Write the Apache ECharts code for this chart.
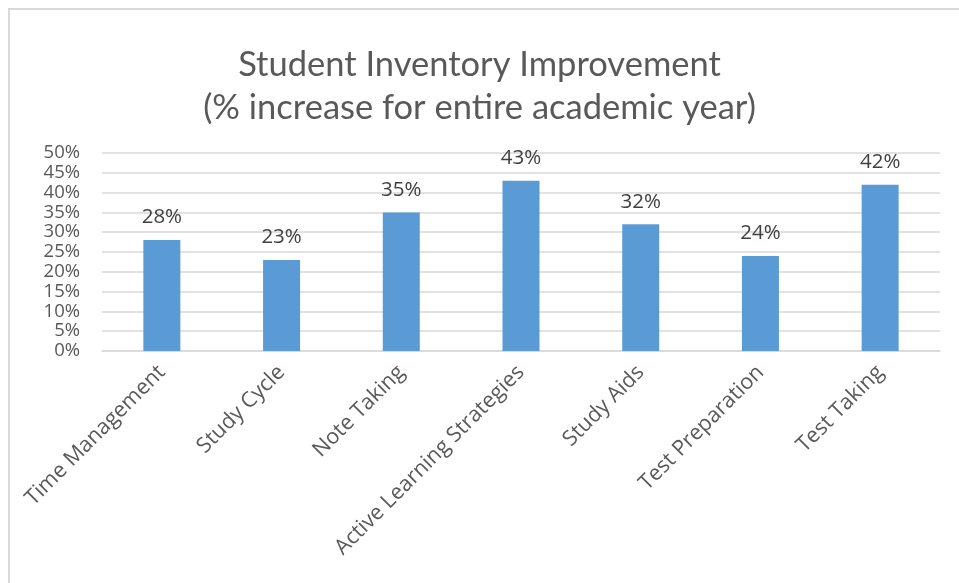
<!DOCTYPE html>
<html>
<head>
<meta charset="utf-8">
<script src="https://cdn.jsdelivr.net/npm/echarts@6/dist/echarts.min.js"></script>
<style>
html, body { margin: 0; padding: 0; background: #fff; }
#frame {
    position: absolute;
    left: 8px; top: 8px;
    width: 951px; height: 575px;
    border-left: 2px solid #d9d9d9;
    border-top: 2px solid #d9d9d9;
}
#chart { position: absolute; left: 0; top: 0; width: 959px; height: 583px; }
</style>
</head>
<body>
<div id="frame"></div>
<div id="chart"></div>
<script>
var categories = ['Time Management', 'Study Cycle', 'Note Taking', 'Active Learning Strategies', 'Study Aids', 'Test Preparation', 'Test Taking'];
var values = [28, 23, 35, 43, 32, 24, 42];
var titleLines = ['Student Inventory Improvement', '(% increase for entire academic year)'];

var option = {
    animation: false,
    title: {
        text: titleLines.join('\n'),
        left: 'center',
        top: 38,
        textStyle: {
            color: '#595959',
            fontFamily: 'Lato',
            fontWeight: 'normal',
            fontSize: 34.5,
            lineHeight: 43
        }
    },
    grid: {
        left: 102,
        right: 19,
        top: 153,
        bottom: 232
    },
    xAxis: {
        type: 'category',
        data: categories,
        axisTick: { show: false },
        splitLine: { show: false },
        axisLine: { lineStyle: { color: '#d9d9d9', width: 1.5 } },
        axisLabel: {
            rotate: 45,
            margin: 18,
            color: '#595959',
            fontFamily: 'Open Sans',
            fontSize: 21.5,
            interval: 0
        }
    },
    yAxis: {
        type: 'value',
        min: 0,
        max: 50,
        interval: 5,
        axisLine: { show: false },
        axisTick: { show: false },
        splitLine: { lineStyle: { color: '#d9d9d9', width: 1.5 } },
        axisLabel: {
            margin: 22,
            color: '#595959',
            fontFamily: 'Open Sans',
            fontSize: 18.5,
            formatter: '{value}%'
        }
    },
    series: [{
        type: 'bar',
        data: values,
        barWidth: 37,
        itemStyle: { color: '#5b9bd5' },
        label: {
            show: true,
            position: 'top',
            distance: 12,
            color: '#404040',
            fontFamily: 'Open Sans',
            fontSize: 20.5,
            formatter: '{c}%'
        }
    }]
};

var chart = echarts.init(document.getElementById('chart'));
chart.setOption(option);
</script>
</body>
</html>
